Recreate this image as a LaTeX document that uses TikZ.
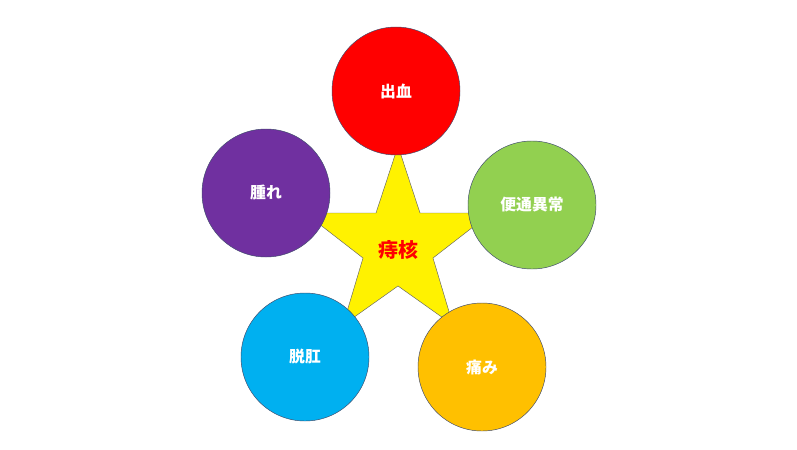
\documentclass[tikz,border=0pt]{standalone}
\usepackage{fontspec}
\setmainfont{Noto Sans CJK JP}
\usetikzlibrary{positioning}
\definecolor{cred}{HTML}{FF0000}
\definecolor{cgreen}{HTML}{92D050}
\definecolor{corange}{HTML}{FFC000}
\definecolor{cblue}{HTML}{00B0F0}
\definecolor{cpurple}{HTML}{7030A0}
\definecolor{cline}{HTML}{3E4A6B}

\begin{document}
\begin{tikzpicture}[x=0.03cm,y=-0.03cm,thin,
    sym/.style={circle,draw=cline,minimum size=3.84cm,inner sep=0pt,text=white,font=\bfseries\fontsize{13.5}{15}\selectfont}]
                \useasboundingbox (0,0) rectangle (797,449);
                % star
                \draw[fill=yellow,draw=gray!80!black] (398,146) -- (420,213) -- (491,213) -- (433,258) -- (453,325)
                    -- (398,286) -- (343,325) -- (363,258) -- (305,213) -- (376,213) -- cycle;
                \node[text=cred,font=\bfseries\fontsize{17}{19}\selectfont] (core) at (398,250) {痔核};
                % symptoms
                \node[sym,fill=cred] (blood) at (396,91) {出血};
                \node[sym,fill=cgreen] (bowel) at (532,205) {便通異常};
                \node[sym,fill=corange] (pain) at (482,367) {痛み};
                \node[sym,fill=cblue] (prolapse) at (305,357) {脱肛};
                \node[sym,fill=cpurple] (swell) at (266,193) {腫れ};
            \end{tikzpicture}
\end{document}
